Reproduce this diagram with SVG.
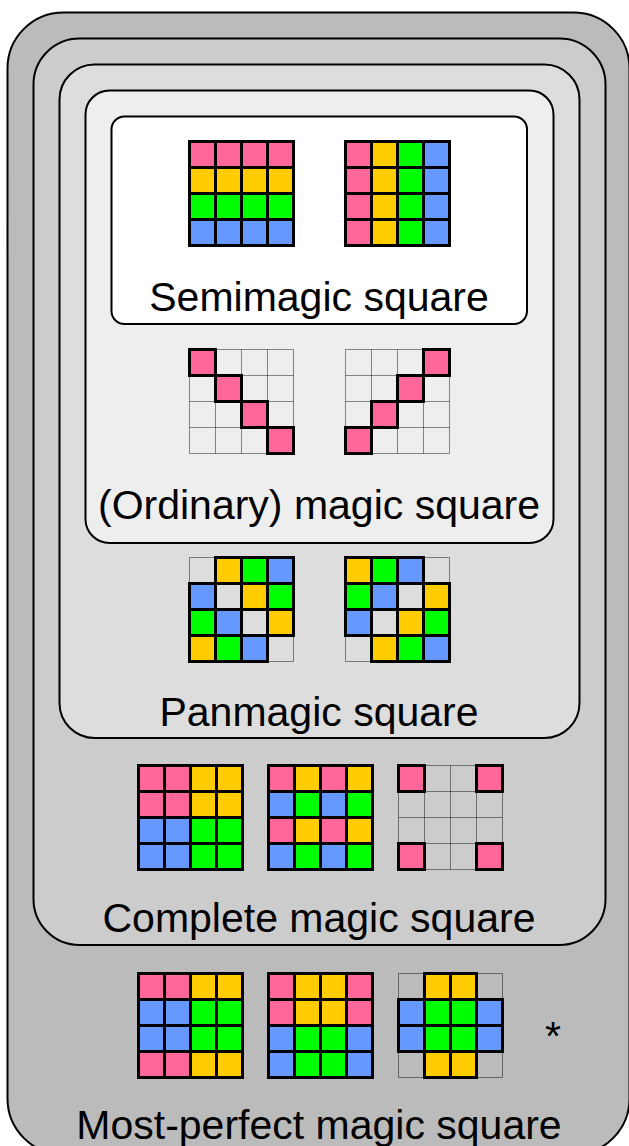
<svg xmlns="http://www.w3.org/2000/svg" width="629" height="1146" viewBox="0 0 629 1146">
<style>
.box{stroke:#000;stroke-width:2}
.lbl{font-family:"Liberation Sans",Arial,sans-serif;font-size:41px;fill:#000;text-anchor:middle}
.c{stroke:#000;stroke-width:3;stroke-linejoin:miter}
.p{fill:#ff6699}.y{fill:#ffcc00}.g{fill:#00ff00}.b{fill:#6699ff}
.thin{fill:none;stroke:#000;stroke-opacity:0.45;stroke-width:1}
</style>
<defs>
<path id="grid" class="thin" d="M0,0H104V104H0Z M26,0V104 M52,0V104 M78,0V104 M0,26H104 M0,52H104 M0,78H104"/>
</defs>
<g id="most-perfect">
<rect class="box" x="7.5" y="12.5" width="622" height="1142" rx="56" fill="#bbbbbb"/>
<g transform="translate(138.5,973.5)">
<rect class="c p" x="0" y="0" width="26" height="26"/><rect class="c p" x="26" y="0" width="26" height="26"/><rect class="c y" x="52" y="0" width="26" height="26"/><rect class="c y" x="78" y="0" width="26" height="26"/>
<rect class="c b" x="0" y="26" width="26" height="26"/><rect class="c b" x="26" y="26" width="26" height="26"/><rect class="c g" x="52" y="26" width="26" height="26"/><rect class="c g" x="78" y="26" width="26" height="26"/>
<rect class="c b" x="0" y="52" width="26" height="26"/><rect class="c b" x="26" y="52" width="26" height="26"/><rect class="c g" x="52" y="52" width="26" height="26"/><rect class="c g" x="78" y="52" width="26" height="26"/>
<rect class="c p" x="0" y="78" width="26" height="26"/><rect class="c p" x="26" y="78" width="26" height="26"/><rect class="c y" x="52" y="78" width="26" height="26"/><rect class="c y" x="78" y="78" width="26" height="26"/>
</g>
<g transform="translate(268.5,973.5)">
<rect class="c p" x="0" y="0" width="26" height="26"/><rect class="c y" x="26" y="0" width="26" height="26"/><rect class="c y" x="52" y="0" width="26" height="26"/><rect class="c p" x="78" y="0" width="26" height="26"/>
<rect class="c p" x="0" y="26" width="26" height="26"/><rect class="c y" x="26" y="26" width="26" height="26"/><rect class="c y" x="52" y="26" width="26" height="26"/><rect class="c p" x="78" y="26" width="26" height="26"/>
<rect class="c b" x="0" y="52" width="26" height="26"/><rect class="c g" x="26" y="52" width="26" height="26"/><rect class="c g" x="52" y="52" width="26" height="26"/><rect class="c b" x="78" y="52" width="26" height="26"/>
<rect class="c b" x="0" y="78" width="26" height="26"/><rect class="c g" x="26" y="78" width="26" height="26"/><rect class="c g" x="52" y="78" width="26" height="26"/><rect class="c b" x="78" y="78" width="26" height="26"/>
</g>
<g transform="translate(398.5,973.5)">
<use href="#grid"/>
<rect class="c y" x="26" y="0" width="26" height="26"/><rect class="c y" x="52" y="0" width="26" height="26"/>
<rect class="c b" x="0" y="26" width="26" height="26"/><rect class="c g" x="26" y="26" width="26" height="26"/><rect class="c g" x="52" y="26" width="26" height="26"/><rect class="c b" x="78" y="26" width="26" height="26"/>
<rect class="c b" x="0" y="52" width="26" height="26"/><rect class="c g" x="26" y="52" width="26" height="26"/><rect class="c g" x="52" y="52" width="26" height="26"/><rect class="c b" x="78" y="52" width="26" height="26"/>
<rect class="c y" x="26" y="78" width="26" height="26"/><rect class="c y" x="52" y="78" width="26" height="26"/>
</g>
<text class="lbl" x="553" y="1050">*</text>
<text class="lbl" x="319" y="1139">Most-perfect magic square</text>
</g>
<g id="complete">
<rect class="box" x="33.5" y="38.5" width="572" height="906.5" rx="46" fill="#cccccc"/>
<g transform="translate(138.5,765.5)">
<rect class="c p" x="0" y="0" width="26" height="26"/><rect class="c p" x="26" y="0" width="26" height="26"/><rect class="c y" x="52" y="0" width="26" height="26"/><rect class="c y" x="78" y="0" width="26" height="26"/>
<rect class="c p" x="0" y="26" width="26" height="26"/><rect class="c p" x="26" y="26" width="26" height="26"/><rect class="c y" x="52" y="26" width="26" height="26"/><rect class="c y" x="78" y="26" width="26" height="26"/>
<rect class="c b" x="0" y="52" width="26" height="26"/><rect class="c b" x="26" y="52" width="26" height="26"/><rect class="c g" x="52" y="52" width="26" height="26"/><rect class="c g" x="78" y="52" width="26" height="26"/>
<rect class="c b" x="0" y="78" width="26" height="26"/><rect class="c b" x="26" y="78" width="26" height="26"/><rect class="c g" x="52" y="78" width="26" height="26"/><rect class="c g" x="78" y="78" width="26" height="26"/>
</g>
<g transform="translate(268.5,765.5)">
<rect class="c p" x="0" y="0" width="26" height="26"/><rect class="c y" x="26" y="0" width="26" height="26"/><rect class="c p" x="52" y="0" width="26" height="26"/><rect class="c y" x="78" y="0" width="26" height="26"/>
<rect class="c b" x="0" y="26" width="26" height="26"/><rect class="c g" x="26" y="26" width="26" height="26"/><rect class="c b" x="52" y="26" width="26" height="26"/><rect class="c g" x="78" y="26" width="26" height="26"/>
<rect class="c p" x="0" y="52" width="26" height="26"/><rect class="c y" x="26" y="52" width="26" height="26"/><rect class="c p" x="52" y="52" width="26" height="26"/><rect class="c y" x="78" y="52" width="26" height="26"/>
<rect class="c b" x="0" y="78" width="26" height="26"/><rect class="c g" x="26" y="78" width="26" height="26"/><rect class="c b" x="52" y="78" width="26" height="26"/><rect class="c g" x="78" y="78" width="26" height="26"/>
</g>
<g transform="translate(398.5,765.5)">
<use href="#grid"/>
<rect class="c p" x="0" y="0" width="26" height="26"/><rect class="c p" x="78" y="0" width="26" height="26"/>
<rect class="c p" x="0" y="78" width="26" height="26"/><rect class="c p" x="78" y="78" width="26" height="26"/>
</g>
<text class="lbl" x="319" y="932">Complete magic square</text>
</g>
<g id="panmagic">
<rect class="box" x="59.5" y="64.5" width="520" height="673.5" rx="35" fill="#dddddd"/>
<g transform="translate(189.5,557.5)">
<use href="#grid"/>
<rect class="c y" x="26" y="0" width="26" height="26"/><rect class="c g" x="52" y="0" width="26" height="26"/><rect class="c b" x="78" y="0" width="26" height="26"/>
<rect class="c b" x="0" y="26" width="26" height="26"/><rect class="c y" x="52" y="26" width="26" height="26"/><rect class="c g" x="78" y="26" width="26" height="26"/>
<rect class="c g" x="0" y="52" width="26" height="26"/><rect class="c b" x="26" y="52" width="26" height="26"/><rect class="c y" x="78" y="52" width="26" height="26"/>
<rect class="c y" x="0" y="78" width="26" height="26"/><rect class="c g" x="26" y="78" width="26" height="26"/><rect class="c b" x="52" y="78" width="26" height="26"/>
</g>
<g transform="translate(345.5,557.5)">
<use href="#grid"/>
<rect class="c y" x="0" y="0" width="26" height="26"/><rect class="c g" x="26" y="0" width="26" height="26"/><rect class="c b" x="52" y="0" width="26" height="26"/>
<rect class="c g" x="0" y="26" width="26" height="26"/><rect class="c b" x="26" y="26" width="26" height="26"/><rect class="c y" x="78" y="26" width="26" height="26"/>
<rect class="c b" x="0" y="52" width="26" height="26"/><rect class="c y" x="52" y="52" width="26" height="26"/><rect class="c g" x="78" y="52" width="26" height="26"/>
<rect class="c y" x="26" y="78" width="26" height="26"/><rect class="c g" x="52" y="78" width="26" height="26"/><rect class="c b" x="78" y="78" width="26" height="26"/>
</g>
<text class="lbl" x="319" y="726">Panmagic square</text>
</g>
<g id="ordinary">
<rect class="box" x="85.5" y="90.5" width="468" height="452.5" rx="24" fill="#eeeeee"/>
<g transform="translate(189.5,349.5)">
<use href="#grid"/>
<rect class="c p" x="0" y="0" width="26" height="26"/><rect class="c p" x="26" y="26" width="26" height="26"/><rect class="c p" x="52" y="52" width="26" height="26"/><rect class="c p" x="78" y="78" width="26" height="26"/>
</g>
<g transform="translate(345.5,349.5)">
<use href="#grid"/>
<rect class="c p" x="78" y="0" width="26" height="26"/><rect class="c p" x="52" y="26" width="26" height="26"/><rect class="c p" x="26" y="52" width="26" height="26"/><rect class="c p" x="0" y="78" width="26" height="26"/>
</g>
<text class="lbl" x="319" y="519">(Ordinary) magic square</text>
</g>
<g id="semimagic">
<rect class="box" x="111.5" y="116.5" width="415.5" height="207.5" rx="13" fill="#ffffff"/>
<g transform="translate(189.5,141.5)">
<rect class="c p" x="0" y="0" width="26" height="26"/><rect class="c p" x="26" y="0" width="26" height="26"/><rect class="c p" x="52" y="0" width="26" height="26"/><rect class="c p" x="78" y="0" width="26" height="26"/>
<rect class="c y" x="0" y="26" width="26" height="26"/><rect class="c y" x="26" y="26" width="26" height="26"/><rect class="c y" x="52" y="26" width="26" height="26"/><rect class="c y" x="78" y="26" width="26" height="26"/>
<rect class="c g" x="0" y="52" width="26" height="26"/><rect class="c g" x="26" y="52" width="26" height="26"/><rect class="c g" x="52" y="52" width="26" height="26"/><rect class="c g" x="78" y="52" width="26" height="26"/>
<rect class="c b" x="0" y="78" width="26" height="26"/><rect class="c b" x="26" y="78" width="26" height="26"/><rect class="c b" x="52" y="78" width="26" height="26"/><rect class="c b" x="78" y="78" width="26" height="26"/>
</g>
<g transform="translate(345.5,141.5)">
<rect class="c p" x="0" y="0" width="26" height="26"/><rect class="c y" x="26" y="0" width="26" height="26"/><rect class="c g" x="52" y="0" width="26" height="26"/><rect class="c b" x="78" y="0" width="26" height="26"/>
<rect class="c p" x="0" y="26" width="26" height="26"/><rect class="c y" x="26" y="26" width="26" height="26"/><rect class="c g" x="52" y="26" width="26" height="26"/><rect class="c b" x="78" y="26" width="26" height="26"/>
<rect class="c p" x="0" y="52" width="26" height="26"/><rect class="c y" x="26" y="52" width="26" height="26"/><rect class="c g" x="52" y="52" width="26" height="26"/><rect class="c b" x="78" y="52" width="26" height="26"/>
<rect class="c p" x="0" y="78" width="26" height="26"/><rect class="c y" x="26" y="78" width="26" height="26"/><rect class="c g" x="52" y="78" width="26" height="26"/><rect class="c b" x="78" y="78" width="26" height="26"/>
</g>
<text class="lbl" x="319" y="311">Semimagic square</text>
</g>
</svg>
